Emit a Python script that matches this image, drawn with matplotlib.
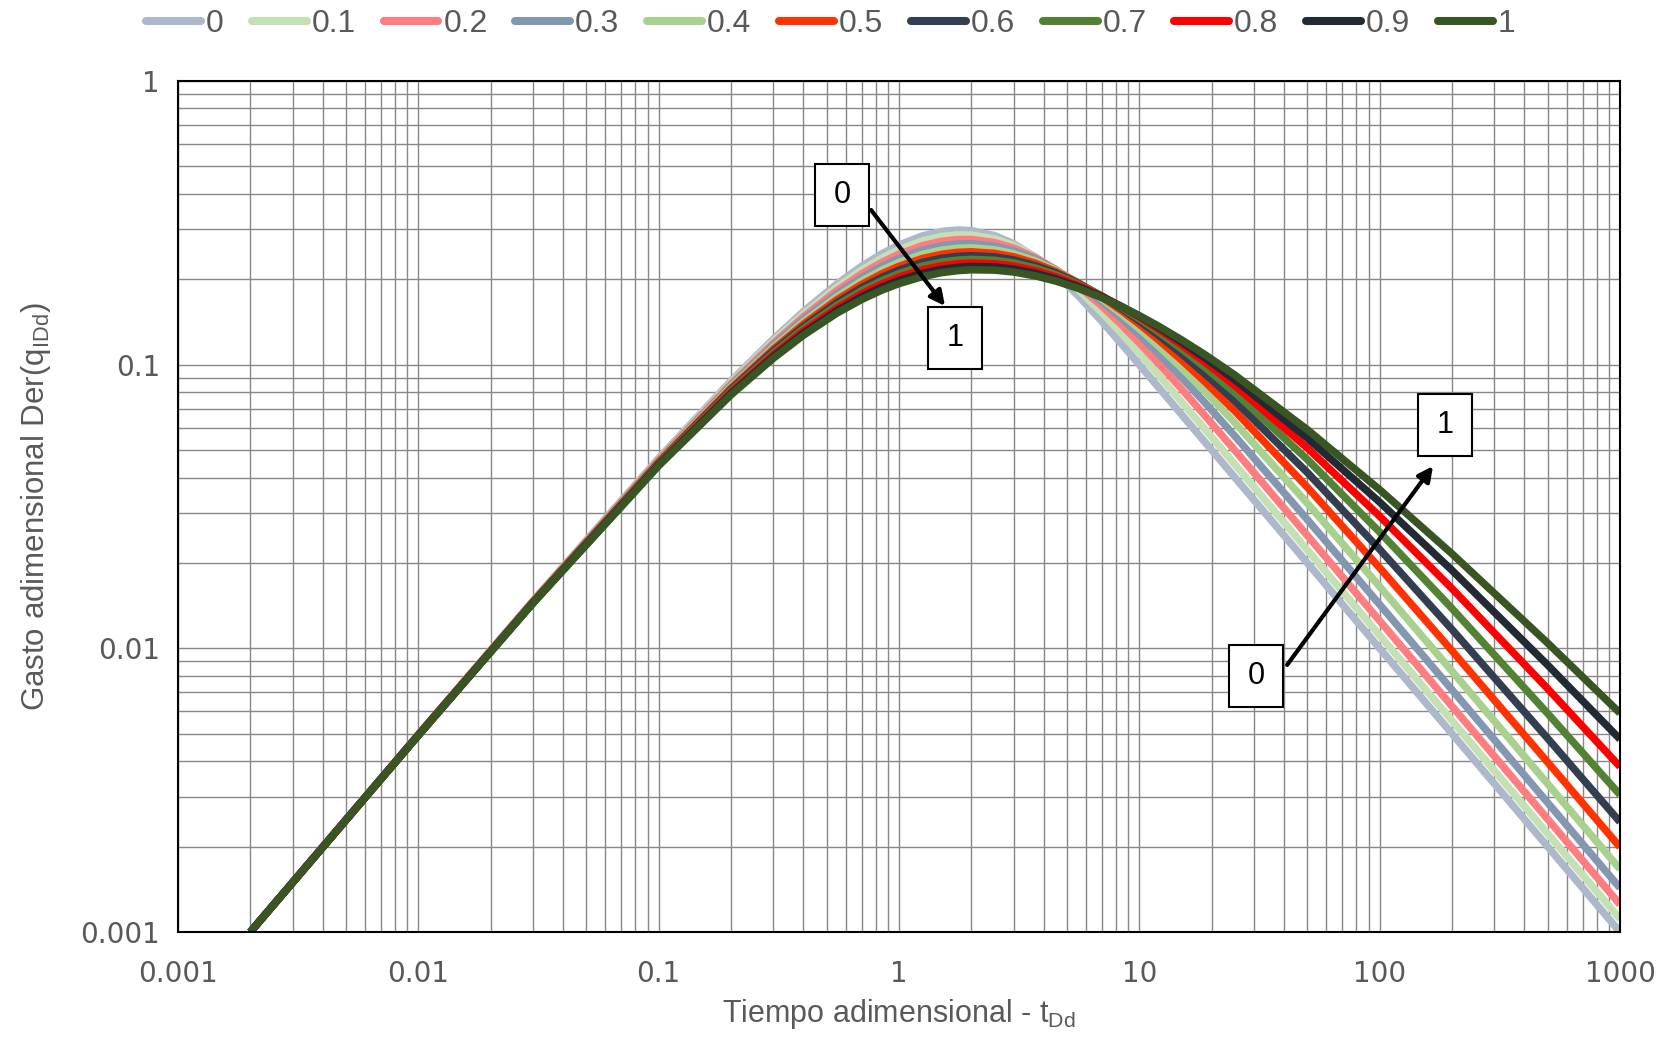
import matplotlib
matplotlib.use("Agg")
import matplotlib.pyplot as plt
from matplotlib.patches import Rectangle
from matplotlib.ticker import LogLocator, NullFormatter

# Dimensionless time t_Dd shared by every curve
t_dd = [0.002, 0.01, 0.03, 0.1, 0.2, 0.3, 0.4, 0.55, 0.7, 0.85, 1, 1.25, 1.5, 1.75, 2,
        2.5, 3, 3.7, 4.5, 5.6, 7, 8.5, 10, 12, 15, 19, 25, 50, 100, 200, 500, 1000]

# Rate-integral derivative for each decline exponent b
q_b00 = [0.001, 0.004967, 0.01470, 0.04679, 0.08762, 0.1231, 0.1539, 0.1922, 0.2226, 0.2462,
         0.2642, 0.2843, 0.2948, 0.2984, 0.2970, 0.2851, 0.2670, 0.2389, 0.2086, 0.1742,
         0.1418, 0.1174, 0.09995, 0.08333, 0.06667, 0.05263, 0.04, 0.02, 0.01, 0.005,
         0.002, 0.001]
q_b01 = [0.001, 0.004963, 0.01468, 0.04649, 0.08657, 0.1210, 0.1506, 0.1870, 0.2156, 0.2376,
         0.2543, 0.2730, 0.2830, 0.2868, 0.2864, 0.2774, 0.2629, 0.2397, 0.2139, 0.1831,
         0.1524, 0.1281, 0.1099, 0.09214, 0.07395, 0.05845, 0.04444, 0.02222, 0.01111,
         0.005556, 0.002222, 0.001111]
q_b02 = [0.001, 0.00496, 0.01465, 0.04620, 0.08555, 0.1190, 0.1474, 0.1822, 0.2091, 0.2297,
         0.2453, 0.2627, 0.2722, 0.2762, 0.2764, 0.2695, 0.2577, 0.2383, 0.2161, 0.1888,
         0.1606, 0.1373, 0.1193, 0.1012, 0.08203, 0.06527, 0.04983, 0.02499, 0.0125,
         0.00625, 0.0025, 0.00125]
q_b03 = [0.001, 0.004957, 0.01462, 0.04591, 0.08455, 0.1171, 0.1445, 0.1776, 0.2030, 0.2224,
         0.2370, 0.2533, 0.2624, 0.2664, 0.2670, 0.2618, 0.2520, 0.2355, 0.2163, 0.1921,
         0.1665, 0.1447, 0.1274, 0.1095, 0.09005, 0.07254, 0.05596, 0.02843, 0.01427,
         0.007141, 0.002857, 0.001429]
q_b04 = [0.001, 0.004953, 0.01459, 0.04563, 0.08358, 0.1152, 0.1416, 0.1732, 0.1973, 0.2156,
         0.2293, 0.2447, 0.2533, 0.2573, 0.2582, 0.2542, 0.2460, 0.2319, 0.2151, 0.1937,
         0.1704, 0.1502, 0.1339, 0.1166, 0.09740, 0.07963, 0.06235, 0.03249, 0.01651,
         0.008305, 0.00333, 0.001666]
q_b05 = [0.001, 0.00495, 0.01456, 0.04535, 0.08264, 0.1134, 0.1389, 0.1692, 0.1920, 0.2093,
         0.2222, 0.2367, 0.2449, 0.2489, 0.25, 0.2469, 0.24, 0.2278, 0.2130, 0.1939,
         0.1728, 0.1542, 0.1389, 0.1224, 0.1038, 0.08617, 0.06859, 0.03698, 0.01922,
         0.009803, 0.003968, 0.001992]
q_b06 = [0.001, 0.004947, 0.01453, 0.04508, 0.08173, 0.1117, 0.1363, 0.1653, 0.1871, 0.2034,
         0.2156, 0.2293, 0.2371, 0.2410, 0.2423, 0.2400, 0.2341, 0.2234, 0.2103, 0.1932,
         0.1741, 0.1569, 0.1426, 0.1271, 0.1092, 0.09196, 0.07441, 0.04166, 0.02233,
         0.01165, 0.004815, 0.002442]
q_b07 = [0.001, 0.004943, 0.01450, 0.04480, 0.08083, 0.1100, 0.1338, 0.1616, 0.1824, 0.1979,
         0.2094, 0.2224, 0.2299, 0.2337, 0.2351, 0.2333, 0.2283, 0.2189, 0.2073, 0.1919,
         0.1744, 0.1586, 0.1453, 0.1307, 0.1137, 0.09697, 0.07967, 0.04633, 0.02570,
         0.01382, 0.005895, 0.003046]
q_b08 = [0.001, 0.00494, 0.01448, 0.04454, 0.07996, 0.1084, 0.1314, 0.1581, 0.1780, 0.1927,
         0.2037, 0.2160, 0.2231, 0.2269, 0.2283, 0.2270, 0.2227, 0.2144, 0.2040, 0.1900,
         0.1741, 0.1595, 0.1472, 0.1335, 0.1173, 0.1012, 0.08433, 0.05084, 0.02922,
         0.01624, 0.007208, 0.003826]
q_b09 = [0.001, 0.004937, 0.01445, 0.04427, 0.07911, 0.1068, 0.1291, 0.1548, 0.1738, 0.1878,
         0.1982, 0.2099, 0.2168, 0.2204, 0.2220, 0.2211, 0.2173, 0.2099, 0.2005, 0.1879,
         0.1733, 0.1598, 0.1483, 0.1355, 0.1201, 0.1048, 0.08838, 0.05509, 0.03276,
         0.01884, 0.008734, 0.004783]
q_b10 = [0.001, 0.004933, 0.01442, 0.04401, 0.07828, 0.1053, 0.1269, 0.1517, 0.1698, 0.1832,
         0.1931, 0.2043, 0.2109, 0.2144, 0.2160, 0.2154, 0.2121, 0.2055, 0.1970, 0.1855,
         0.1721, 0.1596, 0.1489, 0.1368, 0.1223, 0.1077, 0.09186, 0.05903, 0.03625,
         0.02154, 0.01044, 0.00591]

b_labels = ["0", "0.1", "0.2", "0.3", "0.4", "0.5", "0.6", "0.7", "0.8", "0.9", "1"]
series = [q_b00, q_b01, q_b02, q_b03, q_b04, q_b05, q_b06, q_b07, q_b08, q_b09, q_b10]
colors = ["#ADB9CA", "#C5E0B4", "#FF7C80", "#8497B0", "#A9D18E", "#FF3300",
          "#333F50", "#548235", "#FF0000", "#222A35", "#375623"]

x_ticks = [0.001, 0.01, 0.1, 1, 10, 100, 1000]
x_tick_labels = ["0.001", "0.01", "0.1", "1", "10", "100", "1000"]
y_ticks = [0.001, 0.01, 0.1, 1]
y_tick_labels = ["0.001", "0.01", "0.1", "1"]

TEXT = "#595959"
REGULAR = ["Liberation Sans", "DejaVu Sans"]
WIDE = ["DejaVu Sans"]

fig = plt.figure(figsize=(16.71, 10.40), dpi=100)
ax = fig.add_axes([178 / 1671, 1 - 932 / 1040, 1442 / 1671, 851 / 1040])
ax.set_xscale("log")
ax.set_yscale("log")
ax.set_xlim(1e-3, 1e3)
ax.set_ylim(1e-3, 1)

for lab, col, q in zip(b_labels, colors, series):
    ax.plot(t_dd, q, color=col, lw=5.4, label=lab, solid_joinstyle="round",
            solid_capstyle="butt", zorder=3)

# log grid on every decade subdivision
for axis in (ax.xaxis, ax.yaxis):
    axis.set_minor_locator(LogLocator(base=10, subs=range(2, 10), numticks=100))
    axis.set_minor_formatter(NullFormatter())
ax.grid(which="both", color="#878787", lw=1.0)
ax.set_axisbelow(True)

ax.set_xticks(x_ticks, labels=x_tick_labels)
ax.set_yticks(y_ticks, labels=y_tick_labels)
ax.tick_params(which="both", length=0)
ax.tick_params(axis="x", pad=20, labelsize=20, labelcolor=TEXT)
ax.tick_params(axis="y", pad=13, labelsize=20, labelcolor=TEXT)
for lbl in ax.get_xticklabels() + ax.get_yticklabels():
    lbl.set_family(WIDE)

for sp in ax.spines.values():
    sp.set_color("black")
    sp.set_linewidth(1.5)
    sp.set_zorder(5)

ax.set_xlabel(r"Tiempo adimensional - t$_{\mathregular{Dd}}$", fontsize=22,
              color=TEXT, family=REGULAR)
ax.xaxis.set_label_coords(0.5, -0.076)
ax.set_ylabel(r"Gasto adimensional Der(q$_{\mathregular{IDd}}$)", fontsize=22.5,
              color=TEXT, family=REGULAR)
ax.yaxis.set_label_coords(-0.087, 0.5)

# Labelled boxes and arrows showing the direction of increasing b
to_axes = ax.transData + ax.transAxes.inverted()
box_w, box_h = 54 / 1442, 62 / 851


def draw_box(t, q, text):
    cx, cy = to_axes.transform((t, q))
    ax.add_patch(Rectangle((cx - box_w / 2, cy - box_h / 2), box_w, box_h,
                           transform=ax.transAxes, facecolor="white",
                           edgecolor="black", lw=1.5, zorder=6))
    ax.text(cx, cy, text, transform=ax.transAxes, ha="center", va="center",
            fontsize=22, color="black", family=REGULAR, zorder=7)


def draw_arrow(t0, q0, t1, q1):
    ax.annotate("", xy=(t1, q1), xytext=(t0, q0),
                arrowprops=dict(arrowstyle="-|>", color="black", lw=3.0,
                                mutation_scale=22, shrinkA=0, shrinkB=0),
                zorder=6)


draw_arrow(0.765, 0.351, 1.554, 0.161)
draw_box(0.579, 0.396, "0")
draw_box(1.718, 0.124, "1")
draw_arrow(41.2, 0.00874, 166.7, 0.0439)
draw_box(30.7, 0.00799, "0")
draw_box(187, 0.0613, "1")

leg = fig.legend(loc="center", bbox_to_anchor=(0.4973, 0.977), ncol=11,
                 frameon=False, handlelength=1.72, handletextpad=0.15,
                 columnspacing=0.87, prop={"family": REGULAR, "size": 23})
for line in leg.get_lines():
    line.set_linewidth(5.8)
    line.set_solid_capstyle("round")
for txt in leg.get_texts():
    txt.set_color(TEXT)

fig.savefig("out.png", dpi=100)
